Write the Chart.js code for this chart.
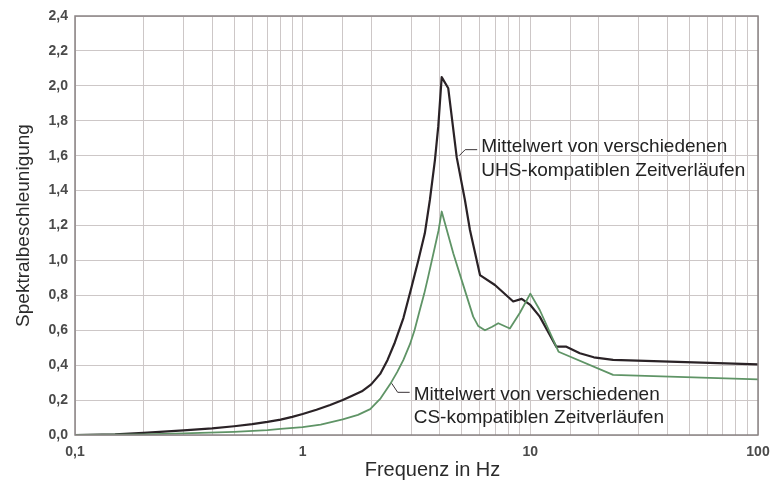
<!DOCTYPE html>
<html>
<head>
<meta charset="utf-8">
<style>
  html, body { margin: 0; padding: 0; background: #fff; }
  #wrap { width: 771px; height: 481px; }
</style>
<script src="https://cdn.jsdelivr.net/npm/chart.js@4/dist/chart.umd.min.js"></script>
</head>
<body>
<div id="wrap"><canvas id="chart" width="771" height="481"></canvas></div>
<script>
// Mittelwert UHS-kompatibler Zeitverläufe (schwarz)
const uhsFreq = [0.1, 0.15, 0.2, 0.3, 0.4, 0.5, 0.6, 0.7, 0.8, 0.9, 1.0, 1.15, 1.32, 1.5, 1.65, 1.82, 2.0, 2.19, 2.36, 2.54, 2.77, 3.01, 3.22, 3.44, 3.62, 3.81, 3.94, 4.08, 4.36, 4.75, 5.16, 5.43, 6.01, 6.99, 8.41, 9.16, 10.0, 11.0, 13.0, 14.4, 16.5, 19.0, 23.1, 100];
const uhsValues = [0, 0.004, 0.012, 0.027, 0.038, 0.05, 0.062, 0.075, 0.088, 0.104, 0.12, 0.145, 0.172, 0.2, 0.225, 0.25, 0.29, 0.35, 0.43, 0.53, 0.67, 0.849, 1.0, 1.155, 1.346, 1.575, 1.766, 2.05, 1.986, 1.59, 1.346, 1.174, 0.916, 0.859, 0.765, 0.78, 0.745, 0.678, 0.506, 0.506, 0.468, 0.445, 0.43, 0.405];

// Mittelwert CS-kompatibler Zeitverläufe (grün)
const csFreq = [0.1, 0.2, 0.3, 0.5, 0.7, 0.8, 1.0, 1.2, 1.5, 1.75, 1.98, 2.2, 2.42, 2.6, 2.77, 2.96, 3.1, 3.27, 3.42, 3.56, 3.81, 3.95, 4.08, 4.59, 5.07, 5.61, 5.9, 6.32, 6.8, 7.23, 8.13, 9.0, 10.0, 11.0, 13.3, 23.1, 100];
const csValues = [0, 0.004, 0.009, 0.018, 0.028, 0.035, 0.045, 0.06, 0.09, 0.115, 0.148, 0.21, 0.29, 0.36, 0.43, 0.52, 0.6, 0.716, 0.81, 0.907, 1.078, 1.17, 1.28, 1.04, 0.86, 0.678, 0.625, 0.60, 0.62, 0.64, 0.61, 0.70, 0.81, 0.716, 0.477, 0.344, 0.319];

const xLabelTicks = [0.1, 1, 10, 100];
const xTitle = 'Frequenz in Hz';

const notes = [
  { lines: ['Mittelwert von verschiedenen', 'UHS-kompatiblen Zeitverläufen'], at: [4.87, 1.60], dir: -1 },
  { lines: ['Mittelwert von verschiedenen', 'CS-kompatiblen Zeitverläufen'], at: [2.46, 0.296], dir: 1 }
];

const FONT = '"Liberation Sans", Arial, sans-serif';
const toPoints = (xs, ys) => xs.map((x, i) => ({ x, y: ys[i] }));
const fmt = (v, digits) => v.toFixed(digits).replace('.', ',');

const framePlugin = {
  id: 'frame',
  afterDatasetsDraw(chart) {
    const { ctx, chartArea: a, scales } = chart;
    ctx.save();
    ctx.strokeStyle = '#8a8485';
    ctx.lineWidth = 1.5;
    ctx.strokeRect(a.left, a.top, a.right - a.left, a.bottom - a.top);

    ctx.strokeStyle = '#3a3336';
    ctx.lineWidth = 1;
    ctx.fillStyle = '#232323';
    ctx.font = '19px ' + FONT;
    ctx.textBaseline = 'middle';
    notes.forEach((n) => {
      const px = scales.x.getPixelForValue(n.at[0]);
      const py = scales.y.getPixelForValue(n.at[1]);
      const bx = px + 6;
      const by = py + (n.dir < 0 ? -6 : 9);
      ctx.beginPath();
      ctx.moveTo(px, py);
      ctx.lineTo(bx, by);
      ctx.lineTo(bx + 12, by);
      ctx.stroke();
      ctx.fillText(n.lines[0], bx + 16, by + (n.dir < 0 ? -3 : 2));
      ctx.fillText(n.lines[1], bx + 16, by + (n.dir < 0 ? 21 : 25));
    });

    // x axis title, sits a little right of the plot centre in the original
    ctx.fillStyle = '#2b2b2b';
    ctx.font = '20px ' + FONT;
    ctx.textAlign = 'center';
    ctx.fillText(xTitle, (a.left + a.right) / 2 + 16, 470);
    ctx.restore();
  }
};

new Chart(document.getElementById('chart'), {
  type: 'scatter',
  data: {
    datasets: [
      {
        label: 'CS',
        data: toPoints(csFreq, csValues),
        showLine: true,
        borderColor: '#5f9466',
        borderWidth: 1.8,
        borderJoinStyle: 'round',
        pointRadius: 0,
        tension: 0
      },
      {
        label: 'UHS',
        data: toPoints(uhsFreq, uhsValues),
        showLine: true,
        borderColor: '#2a2226',
        borderWidth: 2.2,
        borderJoinStyle: 'round',
        pointRadius: 0,
        tension: 0
      }
    ]
  },
  options: {
    responsive: false,
    animation: false,
    layout: { padding: { top: 16, right: 13, left: 0, bottom: 0 } },
    plugins: { legend: { display: false }, tooltip: { enabled: false } },
    scales: {
      x: {
        type: 'logarithmic',
        min: 0.1,
        max: 100,
        afterFit: (s) => { s.height = 46; s.paddingRight = 0; s.paddingLeft = 0; },
        grid: { color: '#cdc7c7', lineWidth: 1, drawTicks: false },
        border: { display: false },
        ticks: {
          autoSkip: false,
          maxRotation: 0,
          padding: 9,
          color: '#4a4a4a',
          font: { family: FONT, size: 14, weight: 'bold' },
          callback: (v) => xLabelTicks.some((t) => Math.abs(t - v) < 1e-9) ? fmt(v, v < 1 ? 1 : 0) : ''
        }
      },
      y: {
        min: 0,
        max: 2.4,
        afterFit: (s) => { s.width = 75; },
        grid: { color: '#cdc7c7', lineWidth: 1, drawTicks: false },
        border: { display: false },
        ticks: {
          stepSize: 0.2,
          padding: 7,
          color: '#4a4a4a',
          font: { family: FONT, size: 14, weight: 'bold' },
          callback: (v) => fmt(v, 1)
        },
        title: {
          display: true,
          text: 'Spektralbeschleunigung',
          color: '#2b2b2b',
          font: { family: FONT, size: 19 },
          padding: { top: 12, bottom: 0 }
        }
      }
    }
  },
  plugins: [framePlugin]
});
</script>
</body>
</html>
